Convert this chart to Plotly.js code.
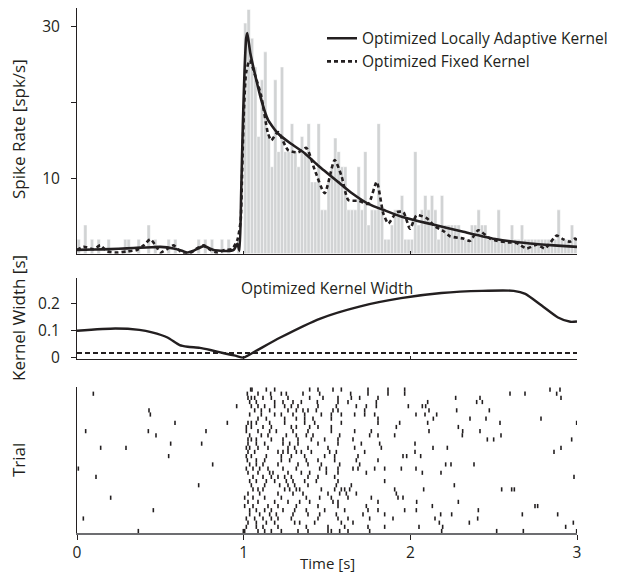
<!DOCTYPE html>
<html>
<head>
<meta charset="utf-8">
<script src="https://cdn.plot.ly/plotly-3.0.1.min.js"></script>
<style>html,body{margin:0;padding:0;background:#fff;}#chart{width:629px;height:573px;}</style>
</head>
<body>
<div id="chart"></div>
<script>
// ---------- DATA ----------
var binWidth = 0.02;
// PSTH spike rate per 20 ms bin [spk/s], 0..3 s
var histRate = [
1.9,0,3.8,0,1.9,0,1.9,0,0,1.9, 0,0,0,0,1.9,1.9,0,0,1.9,0,
0,3.8,0,1.9,0,0,0,1.9,0,1.9, 0,0,0,0,0,0,1.9,0,1.9,0,
1.9,0,0,1.9,0,1.9,0,0,1.9,0,
30.5,32.3,28.5,24.7,15.5,23.0,26.7,15.5,11.5,23.0,
13.5,24.7,13.5,13.5,17.2,13.5,11.5,15.5,13.5,17.2,
9.5,9.5,17.2,5.8,5.8,9.5,11.5,15.3,13.5,11.5,
11.5,5.8,5.8,5.8,11.5,5.8,13.5,3.8,5.8,5.8,
17.2,5.8,1.9,1.9,3.8,5.8,5.8,7.7,1.9,1.9,
1.9,13.5,3.8,5.8,7.7,5.8,7.7,5.8,1.9,7.7,
3.8,3.8,3.8,3.8,3.8,1.9,1.9,1.9,3.8,3.8,
5.8,3.8,3.8,1.9,1.9,1.9,5.8,1.9,1.9,1.9,
3.8,1.9,1.9,3.8,1.9,1.9,1.9,1.9,1.9,1.9,
1.9,1.9,1.9,1.9,5.8,1.9,1.9,1.9,3.8,1.9
];

var adaptiveT = [0,0.1,0.2,0.3,0.38,0.45,0.5,0.58,0.63,0.66,0.7,0.76,0.82,0.9,0.94,0.962,0.975,0.985,0.995,1.005,1.015,1.022,1.04,1.066,1.106,1.146,1.206,1.28,1.366,1.45,1.566,1.65,1.748,1.85,1.948,2.05,2.148,2.318,2.518,2.718,2.86,3.0];
var adaptiveRate = [0.5,0.55,0.6,0.7,0.8,0.85,0.9,0.7,0.4,0.15,0.4,1.0,0.5,0.35,0.5,1.3,0.4,8,17,24,28.5,29.2,26.5,23.9,20.3,17.7,15.9,14.6,13.3,11.6,9.5,8.0,6.6,5.7,4.9,4.3,3.8,2.9,1.9,1.35,1.1,0.9];

var fixedT = [0,0.04,0.1,0.14,0.18,0.24,0.3,0.36,0.4,0.44,0.48,0.5,0.54,0.58,0.62,0.67,0.72,0.76,0.8,0.84,0.89,0.93,0.962,0.982,0.99,1.0,1.015,1.036,1.07,1.106,1.146,1.166,1.206,1.266,1.326,1.376,1.426,1.486,1.546,1.588,1.628,1.688,1.748,1.798,1.838,1.868,1.918,1.958,1.998,2.038,2.098,2.148,2.198,2.238,2.318,2.358,2.408,2.478,2.518,2.588,2.638,2.698,2.758,2.808,2.878,2.918,2.958,2.988,3.0];
var fixedRate = [0.5,0.9,0.6,1.1,0.3,0.15,0.3,0.5,1.1,1.9,0.8,0.15,0.6,1.1,0.3,0.0,0.7,1.1,0.5,0.15,0.5,0.6,1.8,4.4,10,18,24,25.6,23.5,20.8,15.9,15.0,16.1,13.7,13.4,14.0,11.1,8.0,12.4,10.2,7.1,7.0,6.6,9.5,5.3,4.0,5.5,5.5,3.3,5.1,4.7,3.6,3.0,2.3,2.0,1.7,3.1,2.0,1.7,1.5,1.4,0.7,1.2,0.7,2.4,1.9,1.6,2.0,1.8];

var kwT = [0,0.23,0.374,0.45,0.543,0.616,0.664,0.737,0.8,0.882,0.95,1.0,1.075,1.22,1.46,1.70,1.944,2.186,2.43,2.62,2.69,2.79,2.886,2.96,3.0];
var kwAdaptive = [0.099,0.107,0.102,0.093,0.074,0.046,0.040,0.036,0.028,0.016,0.007,0.0,0.025,0.074,0.144,0.189,0.219,0.238,0.246,0.246,0.235,0.191,0.148,0.132,0.133];
var kwFixedT = [0,3];
var kwFixed = [0.017,0.017];

// spike times per trial, top row first [s]
var trials = [
[1.042,1.05,1.136,1.186,1.396,1.446,1.536,1.586,1.746,1.866,1.966,2.838,2.898],
[0.098,1.022,1.086,1.162,1.226,1.256,1.356,1.456,1.642,1.746,1.866,1.966,2.598,2.688,2.878],
[1.026,1.046,1.066,1.116,1.166,1.266,1.396,1.476,1.566,1.646,1.696,1.806,2.272,2.418,2.904],
[1.036,1.076,1.186,1.236,1.296,1.346,1.442,1.566,1.626,1.796,2.104,2.398,2.432],
[0.958,1.046,1.086,1.126,1.186,1.246,1.286,1.326,1.446,1.556,1.676,1.736,1.796,1.988,2.072,2.092],
[0.432,1.066,1.106,1.156,1.266,1.316,1.356,1.386,1.436,1.536,1.566,1.726,2.112,2.278,2.474],
[0.44,1.036,1.106,1.186,1.226,1.296,1.366,1.466,1.526,1.586,1.666,1.726,1.786,2.034,2.088,2.158],
[1.086,1.136,1.246,1.316,1.366,1.416,1.526,1.806,2.138,2.358,2.454,2.784],
[0.588,0.902,1.026,1.046,1.076,1.156,1.246,1.366,1.426,1.586,1.806,1.936,2.104,2.538,2.998],
[1.016,1.046,1.116,1.166,1.286,1.316,1.396,1.446,1.526,1.916,2.288],
[0.052,0.428,0.774,1.016,1.086,1.156,1.196,1.296,1.386,1.526,1.666,1.766,2.112,2.314,2.418],
[0.474,1.036,1.106,1.146,1.256,1.316,1.376,1.416,1.576,1.756,1.806,1.906,2.312,2.544],
[1.026,1.046,1.076,1.166,1.236,1.326,1.406,1.486,1.566,1.656,2.462,2.5,2.968],
[0.562,0.748,1.026,1.076,1.126,1.236,1.276,1.326,1.446,1.566,1.706,1.816,2.028],
[0.142,0.294,1.016,1.036,1.086,1.146,1.266,1.306,1.386,1.506,1.666,1.826,2.136,2.222,2.904],
[1.026,1.066,1.206,1.236,1.266,1.316,1.346,1.406,1.516,1.556,1.726,2.028,2.862],
[0.55,1.016,1.046,1.136,1.226,1.286,1.366,1.486,1.546,1.686,1.956,1.978,2.062],
[1.022,1.076,1.126,1.226,1.276,1.376,1.446,1.546,1.676,1.806],
[0.814,1.036,1.076,1.116,1.206,1.326,1.386,1.466,1.576,1.696,2.212,2.244,2.382],
[0.008,1.016,1.056,1.096,1.146,1.236,1.316,1.456,1.496,1.566,1.656,1.686,1.786,1.846,1.946,2.034],
[1.026,1.086,1.156,1.176,1.266,1.346,1.396,1.496,1.566,1.736,2.072,2.184],
[0.114,1.056,1.116,1.166,1.206,1.246,1.286,1.386,1.446,1.546,2.982],
[1.036,1.076,1.136,1.186,1.256,1.296,1.366,1.436,1.566,1.846],
[0.73,1.046,1.126,1.216,1.266,1.306,1.386,1.556,1.646,2.264],
[1.056,1.086,1.116,1.246,1.276,1.316,1.336,1.466,1.546,1.586,1.606,1.636,1.906,2.08,2.548,2.608,2.624],
[1.026,1.096,1.206,1.296,1.356,1.506,1.576,1.616,1.676,1.916],
[0.202,1.006,1.056,1.126,1.226,1.376,1.456,1.526,1.626,1.766,1.926,1.956],
[1.026,1.086,1.186,1.266,1.336,1.396,1.536,1.566,1.806,2.038,2.288],
[1.006,1.056,1.146,1.206,1.316,1.446,1.566,1.736,2.132,2.748,2.764],
[0.458,1.036,1.076,1.126,1.166,1.236,1.306,1.376,1.486,1.606,1.746,1.806,1.966,2.036,2.408],
[1.036,1.096,1.156,1.196,1.296,1.386,1.456,1.556,1.716,1.846,2.182,2.248,2.672,2.884],
[0.038,1.016,1.066,1.116,1.166,1.206,1.286,1.446,1.566,1.626,1.756,1.896,2.148,2.404],
[1.026,1.076,1.136,1.186,1.306,1.336,1.426,1.586,1.656,2.174,2.354,2.978],
[1.016,1.076,1.116,1.206,1.376,1.506,1.606,1.746,1.846,2.052,2.194,2.932],
[0.368,0.998,1.006,1.086,1.126,1.166,1.226,1.326,1.386,1.506,1.526,1.576,1.626,1.756,2.188,2.518,2.678,2.998]
];

var xTicks = [0,1,2,3];
var legendNames = ['Optimized Locally Adaptive Kernel','Optimized Fixed Kernel'];

// ---------- BUILD ----------
var binCenters = histRate.map(function(_, i){ return binWidth*(i+0.5); });
var rx = [], ry = [];
var nRows = trials.length;
trials.forEach(function(row, i){ row.forEach(function(t){ rx.push(t); ry.push(nRows - i); }); });

var FONT = 'Open Sans, Noto Sans, sans-serif';
var INK = '#231f20';
var FS = 15.5;

var data = [
 {type:'bar', x:binCenters, y:histRate, width:binWidth, xaxis:'x', yaxis:'y',
  marker:{color:'#d1d3d4', line:{color:'#ffffff', width:0.5}}, showlegend:false, hoverinfo:'skip'},
 {type:'scatter', mode:'lines', x:adaptiveT, y:adaptiveRate, xaxis:'x', yaxis:'y', name:legendNames[0],
  line:{color:INK, width:2.6, shape:'spline', smoothing:0.5}},
 {type:'scatter', mode:'lines', x:fixedT, y:fixedRate, xaxis:'x', yaxis:'y', name:legendNames[1],
  line:{color:INK, width:2.6, dash:'4px,3px', shape:'spline', smoothing:0.6}},
 {type:'scatter', mode:'lines', x:kwT, y:kwAdaptive, xaxis:'x2', yaxis:'y2', showlegend:false,
  line:{color:INK, width:2.4, shape:'spline', smoothing:0.6}},
 {type:'scatter', mode:'lines', x:kwFixedT, y:kwFixed, xaxis:'x2', yaxis:'y2', showlegend:false,
  line:{color:INK, width:2.2, dash:'5px,3px'}},
 {type:'scatter', mode:'markers', x:rx, y:ry, xaxis:'x3', yaxis:'y3', showlegend:false,
  marker:{symbol:'line-ns-open', size:3, color:INK, line:{color:INK, width:1.6}}}
];

var baseX = {range:[0,3], showgrid:false, zeroline:false, showline:true, linecolor:INK, linewidth:1,
  tickvals:xTicks, ticks:'inside', ticklen:3, tickcolor:INK, showticklabels:false, fixedrange:true};
var baseY = {showgrid:false, zeroline:false, showline:true, linecolor:INK, linewidth:1,
  ticks:'outside', ticklen:5, tickcolor:INK, ticklabelstandoff:8, tickfont:{family:FONT, size:FS, color:INK}, fixedrange:true};

var layout = {
  width:629, height:573,
  margin:{l:77, r:52, t:8, b:40},
  paper_bgcolor:'#fff', plot_bgcolor:'rgba(0,0,0,0)',
  font:{family:FONT, size:FS, color:INK},
  bargap:0,
  xaxis: Object.assign({}, baseX, {anchor:'y'}),
  yaxis: Object.assign({}, baseY, {domain:[0.532,1], range:[0,32.5], tickvals:[10,20,30], ticktext:['10','','30']}),
  xaxis2: Object.assign({}, baseX, {anchor:'y2'}),
  yaxis2: Object.assign({}, baseY, {domain:[0.331,0.486], range:[-0.006,0.294], tickvals:[0,0.1,0.2], ticktext:['0','0.1','0.2']}),
  xaxis3: Object.assign({}, baseX, {anchor:'y3', ticks:'outside', ticklen:5, showticklabels:true, linecolor:'#6d6e71', linewidth:1.5,
     tickfont:{family:FONT, size:FS, color:INK}, ticktext:['0','1','2','3']}),
  yaxis3: Object.assign({}, baseY, {domain:[0,0.278], range:[0.52,35.6], ticks:'', showticklabels:false}),
  showlegend:true,
  legend:{x:0.49, y:0.974, xanchor:'left', yanchor:'top', bgcolor:'rgba(0,0,0,0)', borderwidth:0,
    font:{family:FONT, size:FS, color:INK}, tracegroupgap:0, itemwidth:30},
  annotations:[
    {text:'Optimized Kernel Width', xref:'paper', yref:'paper', x:0.5, y:(533-288)/525, xanchor:'center', yanchor:'middle', showarrow:false, font:{family:FONT, size:FS, color:INK}},
    {text:'Spike Rate [spk/s]', xref:'paper', yref:'paper', x:(18-77)/500, y:(533-129)/525, textangle:-90, xanchor:'center', yanchor:'middle', showarrow:false, font:{family:FONT, size:17, color:INK}},
    {text:'Kernel Width [s]', xref:'paper', yref:'paper', x:(18-77)/500, y:(533-318)/525, textangle:-90, xanchor:'center', yanchor:'middle', showarrow:false, font:{family:FONT, size:17, color:INK}},
    {text:'Trial', xref:'paper', yref:'paper', x:(18-77)/500, y:(533-460)/525, textangle:-90, xanchor:'center', yanchor:'middle', showarrow:false, font:{family:FONT, size:17, color:INK}},
    {text:'Time [s]', xref:'paper', yref:'paper', x:0.5, y:(533-563)/525, xanchor:'center', yanchor:'middle', showarrow:false, font:{family:FONT, size:15, color:INK}}
  ]
};

Plotly.newPlot('chart', data, layout, {staticPlot:true, displayModeBar:false});
</script>
</body>
</html>
